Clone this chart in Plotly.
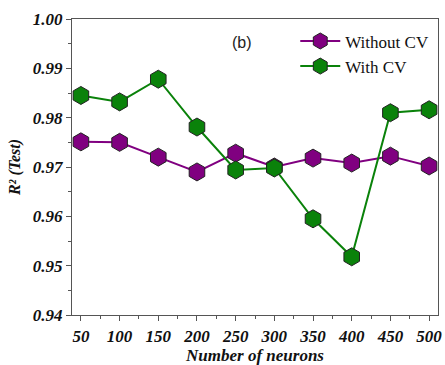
import plotly.graph_objects as go

neurons = [50, 100, 150, 200, 250, 300, 350, 400, 450, 500]
without_cv = [0.9751, 0.9750, 0.9720, 0.9690, 0.9728, 0.9700, 0.9718, 0.9708, 0.9722, 0.9702]
with_cv = [0.9845, 0.9832, 0.9878, 0.9781, 0.9694, 0.9698, 0.9595, 0.9518, 0.9810, 0.9816]
x_ticks = [50, 100, 150, 200, 250, 300, 350, 400, 450, 500]
y_ticks = [0.94, 0.95, 0.96, 0.97, 0.98, 0.99, 1.00]

serif = "Liberation Serif, Times New Roman, serif"

fig = go.Figure()
fig.add_trace(go.Scatter(
    x=neurons, y=without_cv, name="Without CV", mode="lines+markers",
    line=dict(color="#800080", width=2),
    marker=dict(symbol="hexagon", size=18, color="#800080", line=dict(color="#222222", width=1)),
))
fig.add_trace(go.Scatter(
    x=neurons, y=with_cv, name="With CV", mode="lines+markers",
    line=dict(color="#0a820a", width=2),
    marker=dict(symbol="hexagon", size=18, color="#0a820a", line=dict(color="#222222", width=1)),
))

axis_common = dict(
    showline=True, linecolor="#555555", linewidth=1.2, mirror=True,
    ticks="outside", ticklen=5, tickcolor="#555555", tickwidth=1,
    showgrid=False, zeroline=False, ticklabeloverflow="allow",
    tickfont=dict(family=serif, size=17, color="#111111", weight="bold", style="italic"),
)

fig.update_layout(
    width=445, height=365,
    margin=dict(l=72, r=3, t=19, b=50),
    paper_bgcolor="white", plot_bgcolor="white",
    showlegend=True,
    legend=dict(x=0.61, y=0.985, xanchor="left", yanchor="top",
                font=dict(family=serif, size=17, color="#111111"),
                bgcolor="rgba(0,0,0,0)", tracegroupgap=0, itemwidth=40),
    xaxis=dict(range=[38.5, 511.5], tickvals=x_ticks,
               minor=dict(ticks="outside", ticklen=3, tickcolor="#555555", dtick=25, tick0=25),
               title=dict(text="Number of neurons", standoff=4,
                          font=dict(family=serif, size=17, color="#111111", weight="bold", style="italic")),
               **axis_common),
    yaxis=dict(range=[0.94, 1.00], tickvals=y_ticks, tickformat=".2f",
               minor=dict(ticks="outside", ticklen=3, tickcolor="#555555", dtick=0.005, tick0=0.94),
               title=dict(text="R² (Test)", standoff=8,
                          font=dict(family=serif, size=16, color="#111111", weight="bold", style="italic")),
               **axis_common),
    annotations=[dict(x=0.465, y=0.955, xref="paper", yref="paper", text="(b)", showarrow=False,
                      font=dict(family="Liberation Sans, Arial", size=16, color="#222222"))],
)

fig.write_html("out.html")
